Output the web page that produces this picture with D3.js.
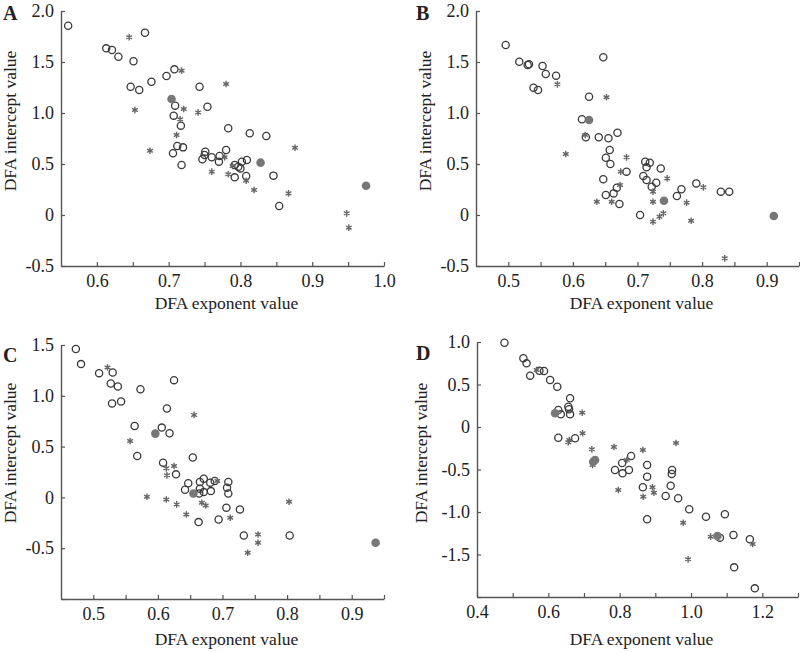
<!DOCTYPE html>
<html><head><meta charset="utf-8">
<script src="https://cdn.jsdelivr.net/npm/d3@7"></script>
<style>
body{margin:0;background:#fff}
svg text{font-family:"Liberation Serif","Times New Roman",serif;fill:#222}
</style>
</head><body>
<svg id="chart" width="800" height="652"></svg>
<script>
// ---------- DATA (x = DFA exponent, y = DFA intercept) ----------
const aOpen = [[0.560,1.856],[0.667,1.787],[0.613,1.634],[0.621,1.618],[0.630,1.552],[0.651,1.507],[0.647,1.258],[0.659,1.225],[0.676,1.307],[0.697,1.363],[0.708,1.428],[0.709,1.072],[0.707,0.974],[0.717,0.876],[0.712,0.676],[0.720,0.663],[0.706,0.605],[0.718,0.490],[0.743,1.258],[0.754,1.062],[0.783,0.850],[0.813,0.801],[0.836,0.775],[0.751,0.621],[0.780,0.637],[0.750,0.588],[0.747,0.546],[0.760,0.566],[0.771,0.578],[0.770,0.523],[0.792,0.490],[0.797,0.474],[0.800,0.457],[0.802,0.523],[0.809,0.539],[0.792,0.369],[0.808,0.382],[0.846,0.386],[0.854,0.088]];
const aStar = [[0.645,1.742],[0.718,1.415],[0.721,1.039],[0.653,1.029],[0.741,1.006],[0.716,0.938],[0.711,0.784],[0.674,0.630],[0.780,1.284],[0.876,0.660],[0.778,0.566],[0.760,0.425],[0.789,0.480],[0.783,0.399],[0.808,0.336],[0.819,0.245],[0.867,0.212],[0.948,0.016],[0.951,-0.124]];
const aFill = [[0.704,1.137],[0.828,0.513],[0.975,0.287]];

const bOpen = [[0.496,1.667],[0.517,1.503],[0.530,1.471],[0.532,1.478],[0.553,1.461],[0.558,1.382],[0.574,1.366],[0.539,1.248],[0.546,1.225],[0.625,1.160],[0.614,0.938],[0.620,0.762],[0.640,0.762],[0.647,1.546],[0.655,0.752],[0.669,0.807],[0.657,0.637],[0.651,0.562],[0.658,0.500],[0.683,0.425],[0.647,0.350],[0.651,0.196],[0.663,0.212],[0.668,0.268],[0.672,0.108],[0.712,0.523],[0.719,0.513],[0.714,0.467],[0.736,0.457],[0.709,0.382],[0.714,0.343],[0.729,0.317],[0.722,0.278],[0.704,0.000],[0.761,0.186],[0.768,0.252],[0.791,0.310],[0.829,0.229],[0.842,0.229]];
const bStar = [[0.576,1.281],[0.619,0.784],[0.589,0.598],[0.652,1.154],[0.683,0.565],[0.637,0.130],[0.674,0.425],[0.673,0.294],[0.660,0.130],[0.746,0.359],[0.724,0.229],[0.724,0.130],[0.724,-0.065],[0.734,-0.016],[0.740,0.016],[0.776,0.121],[0.783,-0.056],[0.802,0.271],[0.835,-0.425]];
const bFill = [[0.625,0.931],[0.741,0.140],[0.911,-0.010]];

const cOpen = [[0.473,1.460],[0.481,1.312],[0.509,1.223],[0.530,1.230],[0.527,1.121],[0.538,1.092],[0.573,1.065],[0.529,0.924],[0.543,0.944],[0.625,1.154],[0.614,0.875],[0.564,0.703],[0.606,0.687],[0.618,0.631],[0.568,0.407],[0.654,0.392],[0.608,0.342],[0.628,0.227],[0.647,0.140],[0.642,0.075],[0.663,-0.243],[0.665,0.151],[0.671,0.184],[0.681,0.145],[0.688,0.161],[0.665,0.086],[0.671,0.052],[0.682,0.062],[0.664,0.039],[0.709,0.151],[0.707,0.096],[0.709,0.039],[0.706,-0.102],[0.727,-0.118],[0.694,-0.217],[0.733,-0.375],[0.804,-0.375]];
const cStar = [[0.522,1.279],[0.656,0.812],[0.557,0.555],[0.613,0.286],[0.625,0.309],[0.614,0.217],[0.583,0.007],[0.613,-0.020],[0.629,-0.069],[0.644,-0.168],[0.692,0.161],[0.668,-0.052],[0.674,-0.079],[0.712,-0.200],[0.755,-0.365],[0.755,-0.447],[0.739,-0.545],[0.803,-0.043]];
const cFill = [[0.596,0.628],[0.655,0.039],[0.937,-0.447]];

const dOpen = [[0.477,0.992],[0.530,0.808],[0.539,0.749],[0.549,0.604],[0.575,0.662],[0.588,0.659],[0.605,0.553],[0.625,0.474],[0.661,0.338],[0.656,0.239],[0.658,0.208],[0.628,0.200],[0.635,0.149],[0.661,0.149],[0.628,-0.126],[0.675,-0.133],[0.807,-0.424],[0.832,-0.341],[0.826,-0.506],[0.877,-0.447],[0.947,-0.506],[0.787,-0.506],[0.808,-0.545],[0.877,-0.584],[0.946,-0.553],[0.865,-0.709],[0.929,-0.812],[0.943,-0.691],[0.964,-0.839],[0.877,-1.086],[0.995,-0.968],[1.042,-1.055],[1.095,-1.027],[1.081,-1.302],[1.119,-1.271],[1.165,-1.321],[1.121,-1.651],[1.179,-1.898]];
const dStar = [[0.567,0.671],[0.695,0.168],[0.659,-0.153],[0.696,-0.074],[0.656,-0.180],[0.722,-0.263],[0.724,-0.447],[0.784,-0.235],[0.820,-0.388],[0.865,-0.271],[0.958,-0.188],[0.796,-0.741],[0.892,-0.709],[0.866,-0.820],[0.896,-0.773],[0.978,-1.126],[1.055,-1.290],[1.173,-1.376],[0.992,-1.557]];
const dFill = [[0.619,0.161],[0.726,-0.408],[0.731,-0.388],[1.074,-1.282]];

// ---------- TICKS ----------
const abcXLabels = [0.5,0.6,0.7,0.8,0.9,1.0];
const dXLabels = [0.4,0.6,0.8,1.0,1.2];
const abYTicks = [-0.5,0,0.5,1.0,1.5,2.0];
const cYTicks = [-1.0,-0.5,0,0.5,1.0,1.5];
const cYLabels = [-0.5,0,0.5,1.0,1.5];
const dYTicks = [-2.0,-1.5,-1.0,-0.5,0,0.5,1.0];
const dYLabels = [-1.5,-1.0,-0.5,0,0.5,1.0];

const xTitle = "DFA exponent value";
const yTitle = "DFA intercept value";

// ---------- DRAW ----------
const svg = d3.select("#chart");
const fmt = v => Math.abs(v) < 1e-9 ? "0" : v.toFixed(1);
const stepTicks = (lo, hi, step) => d3.range(Math.round(lo/step), Math.round(hi/step)+1).map(i => +(i*step).toFixed(4));

const panels = [
  {letter:"A", open:aOpen, star:aStar, fill:aFill, xd:[0.55,1.0], xr:[61,384], yd:[-0.5,2.0], yr:[266,11],
   xt:stepTicks(0.6,1.0,0.05), xl:abcXLabels, yt:abYTicks, yl:abYTicks, lx:3, ly:20, ytx:16, yty:121, xtb:309},
  {letter:"B", open:bOpen, star:bStar, fill:bFill, xd:[0.45,0.95], xr:[476,799], yd:[-0.5,2.0], yr:[266,11],
   xt:stepTicks(0.5,0.95,0.05), xl:abcXLabels, yt:abYTicks, yl:abYTicks, lx:416, ly:20, ytx:431, yty:121, xtb:309},
  {letter:"C", open:cOpen, star:cStar, fill:cFill, xd:[0.45,0.95], xr:[61,384], yd:[-1.0,1.5], yr:[599,345],
   xt:stepTicks(0.5,0.95,0.05), xl:abcXLabels, yt:cYTicks, yl:cYLabels, lx:3, ly:362, ytx:16, yty:453, xtb:645},
  {letter:"D", open:dOpen, star:dStar, fill:dFill, xd:[0.4,1.3], xr:[477,798], yd:[-2.0,1.0], yr:[597,342],
   xt:stepTicks(0.4,1.3,0.1), xl:dXLabels, yt:dYTicks, yl:dYLabels, lx:416, ly:360, ytx:427, yty:453, xtb:645}
];

const axisColor = "#555";

panels.forEach(p => {
  const x = d3.scaleLinear().domain(p.xd).range(p.xr);
  const y = d3.scaleLinear().domain(p.yd).range(p.yr);
  const g = svg.append("g");
  const isLab = (arr, v) => arr.some(a => Math.abs(a - v) < 1e-6);

  const xa = d3.axisBottom(x).tickValues(p.xt).tickSizeInner(-4).tickSizeOuter(0).tickPadding(8)
    .tickFormat(v => isLab(p.xl, v) ? fmt(v) : "");
  const gx = g.append("g").attr("transform", `translate(0,${p.yr[0]})`).call(xa);

  const ya = d3.axisLeft(y).tickValues(p.yt).tickSizeInner(-4).tickSizeOuter(0).tickPadding(7)
    .tickFormat(v => isLab(p.yl, v) ? fmt(v) : "");
  const gy = g.append("g").attr("transform", `translate(${p.xr[0]},0)`).call(ya);

  [gx, gy].forEach(a => {
    a.attr("font-family", '"Liberation Serif","Times New Roman",serif');
    a.select(".domain").attr("stroke", axisColor).attr("stroke-width", 1.4);
    a.selectAll(".tick line").attr("stroke", axisColor).attr("stroke-width", 1.2);
    a.selectAll(".tick text").attr("font-size", 18).attr("fill", "#222");
  });

  // markers
  g.append("g").selectAll("circle").data(p.open).join("circle")
    .attr("cx", d => x(d[0])).attr("cy", d => y(d[1])).attr("r", 3.6)
    .attr("fill", "none").attr("stroke", "#3a3a3a").attr("stroke-width", 1.3);
  const star = d3.symbol(d3.symbolAsterisk, 30);
  g.append("g").selectAll("path").data(p.star).join("path")
    .attr("d", star).attr("transform", d => `translate(${x(d[0])},${y(d[1])})`)
    .attr("fill", "none").attr("stroke", "#666").attr("stroke-width", 1.4);
  g.append("g").selectAll("circle").data(p.fill).join("circle")
    .attr("cx", d => x(d[0])).attr("cy", d => y(d[1])).attr("r", 4.3)
    .attr("fill", "#777");

  // titles
  g.append("text").attr("x", (p.xr[0]+p.xr[1])/2 + 4).attr("y", p.xtb)
    .attr("text-anchor", "middle").attr("font-size", 17.5).text(xTitle);
  g.append("text").attr("transform", `translate(${p.ytx},${p.yty}) rotate(-90)`)
    .attr("text-anchor", "middle").attr("font-size", 17.5).text(yTitle);
  g.append("text").attr("x", p.lx).attr("y", p.ly)
    .attr("font-size", 20).attr("font-weight", "bold").text(p.letter);
});
</script>
</body></html>
